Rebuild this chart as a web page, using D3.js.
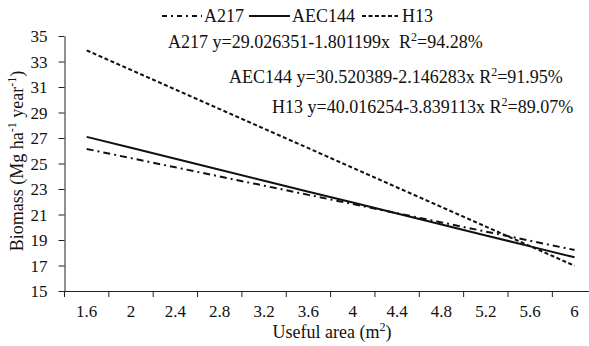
<!DOCTYPE html>
<html>
<head>
<meta charset="utf-8">
<script src="https://cdn.jsdelivr.net/npm/d3@7"></script>
<style>
  body { margin: 0; background: #fff; }
  svg { display: block; }
  svg text { font-family: "Liberation Serif", "DejaVu Serif", serif !important; fill: #111; }
</style>
</head>
<body>
<div class="svg-container"></div>
<script>
// useful area categories (m2)
var categories = ["1.6", "2", "2.4", "2.8", "3.2", "3.6", "4", "4.4", "4.8", "5.2", "5.6", "6"];
// biomass (Mg ha-1 year-1)
var a217   = [26.14, 25.42, 24.70, 23.98, 23.26, 22.54, 21.82, 21.10, 20.38, 19.66, 18.94, 18.22];
var aec144 = [27.09, 26.23, 25.37, 24.51, 23.65, 22.79, 21.94, 21.08, 20.22, 19.36, 18.50, 17.64];
var h13    = [33.87, 32.34, 30.80, 29.27, 27.73, 26.20, 24.66, 23.12, 21.59, 20.05, 18.52, 16.98];
var yTicks = [15, 17, 19, 21, 23, 25, 27, 29, 31, 33, 35];

var seriesNames = ["A217", "AEC144", "H13"];
var equations = [
  {name: "A217",   eq: "y=29.026351-1.801199x", r2: "=94.28%", gap: "\u00a0\u00a0"},
  {name: "AEC144", eq: "y=30.520389-2.146283x", r2: "=91.95%", gap: "\u00a0"},
  {name: "H13",    eq: "y=40.016254-3.839113x", r2: "=89.07%", gap: "\u00a0"}
];

var svgWidth = 589, svgHeight = 346;
var dashes = {"A217": "7,4,2,4", "AEC144": null, "H13": "4,2.5"};
var widths = {"A217": 2, "AEC144": 2, "H13": 2};
var FONT = '"Liberation Serif", "DejaVu Serif", serif';

var svg = d3.select(".svg-container").append("svg")
  .attr("width", svgWidth)
  .attr("height", svgHeight)
  .attr("font-family", FONT);

var x = d3.scaleBand().domain(categories).range([64.5, 596.7]).padding(0);
var y = d3.scaleLinear().domain([15, 35]).range([291, 36]);

// y axis
var yAxis = svg.append("g")
  .attr("transform", "translate(64.5,0)")
  .call(d3.axisLeft(y).tickValues(yTicks).tickSize(6).tickPadding(11).tickSizeOuter(0))
  .attr("font-family", FONT);
yAxis.selectAll("text").style("font-size", "17px").attr("dy", "0.34em").attr("fill", "#111");
yAxis.selectAll("line,path").attr("stroke", "#222");

// x axis (labels between tick marks)
var xAxis = svg.append("g")
  .attr("transform", "translate(0,291)")
  .call(d3.axisBottom(x).tickSize(0).tickSizeOuter(0))
  .attr("font-family", FONT);
xAxis.selectAll("text").style("font-size", "17px").attr("y", 26).attr("dy", 0).attr("fill", "#111");
xAxis.select("path").attr("stroke", "#222");

xAxis.selectAll("line.bound")
  .data(categories)
  .enter().append("line")
    .attr("class", "bound")
    .attr("x1", function(d){ return x(d); })
    .attr("x2", function(d){ return x(d); })
    .attr("y1", 0)
    .attr("y2", 6)
    .attr("stroke", "#222");

// lines
var data = {"A217": a217, "AEC144": aec144, "H13": h13};
var line = d3.line()
  .x(function(d, i){ return x(categories[i]) + x.bandwidth() / 2; })
  .y(function(d){ return y(d); });

svg.append("g").selectAll("path")
  .data(seriesNames)
  .enter().append("path")
    .attr("d", function(d){ return line(data[d]); })
    .attr("fill", "none")
    .attr("stroke", "#111")
    .attr("stroke-width", function(d){ return widths[d]; })
    .attr("stroke-dasharray", function(d){ return dashes[d]; });

// legend
var legendItems = [
  {name: "A217",   x1: 162, x2: 202, tx: 204, dash: "5,4,2,4"},
  {name: "AEC144", x1: 249, x2: 290, tx: 292, dash: null},
  {name: "H13",    x1: 362, x2: 398, tx: 402, dash: "4,2.5"}
];
var legend = svg.append("g");
legendItems.forEach(function(it){
  legend.append("line")
    .attr("x1", it.x1).attr("x2", it.x2)
    .attr("y1", 16).attr("y2", 16)
    .attr("stroke", "#111")
    .attr("stroke-width", 2)
    .attr("stroke-dasharray", it.dash);
  legend.append("text")
    .attr("x", it.tx).attr("y", 22)
    .style("font-size", "18px")
    .text(it.name);
});

// equations
var eqPos = [{x: 168, y: 48}, {x: 229, y: 83}, {x: 272, y: 113}];
equations.forEach(function(e, i){
  var t = svg.append("text")
    .attr("x", eqPos[i].x).attr("y", eqPos[i].y)
    .style("font-size", "18px");
  t.append("tspan").text(e.name + " " + e.eq + e.gap + "R");
  t.append("tspan").attr("dy", -7).style("font-size", "12px").text("2");
  t.append("tspan").attr("dy", 7).text(e.r2);
});

// axis titles
var xt = svg.append("text")
  .attr("x", 332).attr("y", 338)
  .attr("text-anchor", "middle")
  .style("font-size", "18px");
xt.append("tspan").text("Useful area (m");
xt.append("tspan").attr("dy", -7).style("font-size", "12px").text("2");
xt.append("tspan").attr("dy", 7).text(")");

var yt = svg.append("text")
  .attr("transform", "translate(23,161) rotate(-90)")
  .attr("text-anchor", "middle")
  .style("font-size", "18px");
yt.append("tspan").text("Biomass (Mg ha");
yt.append("tspan").attr("dy", -7).style("font-size", "12px").text("-1");
yt.append("tspan").attr("dy", 7).text(" year");
yt.append("tspan").attr("dy", -7).style("font-size", "12px").text("-1");
yt.append("tspan").attr("dy", 7).text(")");
</script>
</body>
</html>
